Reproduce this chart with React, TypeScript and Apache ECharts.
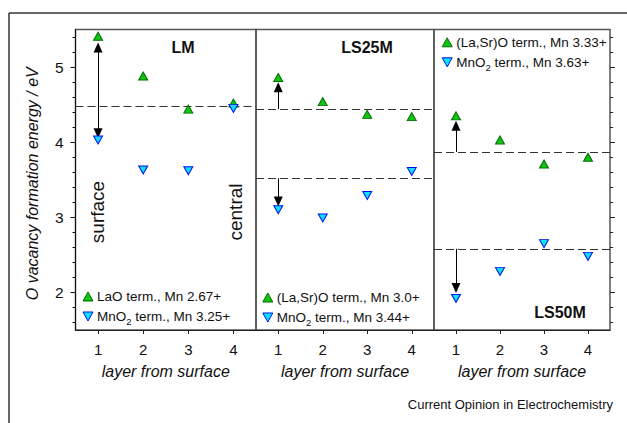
import React, { useEffect, useRef } from 'react';
import * as echarts from 'echarts';

const layers = [1, 2, 3, 4];
const panelNames = ['LM', 'LS25M', 'LS50M'];
const lmLaO = [5.41, 4.88, 4.44, 4.52];
const lmMnO2 = [4.03, 3.63, 3.62, 4.45];
const ls25LaSrO = [4.86, 4.54, 4.37, 4.34];
const ls25MnO2 = [3.1, 2.99, 3.29, 3.61];
const ls50LaSrO = [4.35, 4.03, 3.71, 3.8];
const ls50MnO2 = [1.92, 2.28, 2.65, 2.48];
const aoLabels = ['LaO term., Mn 2.67+', '(La,Sr)O term., Mn 3.0+', '(La,Sr)O term., Mn 3.33+'];
const bLabels = ['MnO2 term., Mn 3.25+', 'MnO2 term., Mn 3.44+', 'MnO2 term., Mn 3.63+'];
const aoAverages = [4.48, 4.44, 3.87];
const bAverages = [4.48, 3.52, 2.58];
const aoArrowEnds = [5.26, 4.73, 4.22];
const bArrowEnds = [4.12, 3.21, 2.06];
const xTicks = [1, 2, 3, 4];
const yMajorTicks = [2, 3, 4, 5];
const yMinorTicks = [1.6, 1.8, 2.2, 2.4, 2.6, 2.8, 3.2, 3.4, 3.6, 3.8, 4.2, 4.4, 4.6, 4.8, 5.2, 5.4];
const yAxisTitle = 'O vacancy formation energy / eV';
const xAxisTitle = 'layer from surface';

const FONT = 'Liberation Sans, Arial, sans-serif';
const upTri = 'path://M5,0L10,9L0,9Z';
const downTri = 'path://M0,0L10,0L5,9Z';

const pts = (vals: number[]) => layers.map((x, i) => [x, vals[i]]);

export default function App() {
  const ref = useRef<HTMLDivElement>(null);
  useEffect(() => {
    if (!ref.current) return;
    const chart = echarts.init(ref.current, undefined, { renderer: 'svg' });
    const grids = [
      { left: 75.5, top: 29.5, width: 180.5, height: 300.5 },
      { left: 256, top: 29.5, width: 178, height: 300.5 },
      { left: 434, top: 29.5, width: 176, height: 300.5 },
    ].map((g) => ({ ...g, show: true, borderColor: '#555', borderWidth: 1.5, containLabel: false }));

    const aoSets = [lmLaO, ls25LaSrO, ls50LaSrO];
    const bSets = [lmMnO2, ls25MnO2, ls50MnO2];
    const yIdx = [0, 2, 3];

    const xAxis = [0, 1, 2].map((i) => ({
      type: 'value',
      gridIndex: i,
      min: 0.5,
      max: 4.5,
      splitLine: { show: false },
      axisLine: { show: true, lineStyle: { color: '#222', width: 1 } },
      axisTick: { show: true, customValues: xTicks, length: 4, lineStyle: { color: '#222' } },
      axisLabel: { customValues: xTicks, fontSize: 15, color: '#111', fontFamily: FONT, margin: 12 },
      name: xAxisTitle,
      nameLocation: 'middle',
      nameGap: 33,
      nameTextStyle: { fontSize: 16, fontStyle: 'italic', color: '#111', fontFamily: FONT },
    }));

    const baseY = { type: 'value', min: 1.5, max: 5.5, splitLine: { show: false } };
    const yAxis = [
      {
        ...baseY,
        gridIndex: 0,
        position: 'left',
        axisLine: { show: true, lineStyle: { color: '#111', width: 1 } },
        axisTick: { show: true, customValues: yMajorTicks, length: 5, lineStyle: { color: '#111' } },
        axisLabel: { customValues: yMajorTicks, fontSize: 15.5, color: '#111', fontFamily: FONT, margin: 12 },
        name: yAxisTitle,
        nameLocation: 'middle',
        nameRotate: 90,
        nameGap: 35,
        nameTextStyle: { fontSize: 16, fontStyle: 'italic', color: '#111', fontFamily: FONT, padding: [0, 8, 0, 0] },
      },
      {
        ...baseY,
        gridIndex: 0,
        position: 'left',
        axisLine: { show: false },
        axisTick: { show: true, customValues: yMinorTicks, length: 3, lineStyle: { color: '#111' } },
        axisLabel: { show: false },
      },
      { ...baseY, gridIndex: 1, show: false },
      {
        ...baseY,
        gridIndex: 2,
        position: 'right',
        axisLine: { show: false },
        axisTick: { show: true, customValues: yMajorTicks, length: 5, lineStyle: { color: '#222' } },
        axisLabel: { show: false },
      },
      {
        ...baseY,
        gridIndex: 2,
        position: 'right',
        axisLine: { show: false },
        axisTick: { show: true, customValues: yMinorTicks, length: 3, lineStyle: { color: '#222' } },
        axisLabel: { show: false },
      },
    ];

    const dashStyle = { type: [8, 4], color: '#333', width: 1 };
    const arrowStyle = { type: 'solid', color: '#000', width: 1 };

    const arrowMarkLine = (base: number, end: number) => ({
      silent: true,
      symbol: ['none', 'triangle'],
      symbolSize: [9, 10],
      label: { show: false },
      lineStyle: arrowStyle,
      itemStyle: { color: '#000' },
      data: [[{ coord: [layers[0], base] }, { coord: [layers[0], end] }]],
    });

    const series: any[] = [];
    [0, 1, 2].forEach((p) => {
      const levels = aoAverages[p] === bAverages[p] ? [aoAverages[p]] : [aoAverages[p], bAverages[p]];
      series.push({
        type: 'scatter',
        xAxisIndex: p,
        yAxisIndex: yIdx[p],
        data: [],
        markLine: {
          silent: true,
          symbol: ['none', 'none'],
          label: { show: false },
          lineStyle: dashStyle,
          data: levels.map((v) => ({ yAxis: v })),
        },
      });
      series.push({
        type: 'scatter',
        name: aoLabels[p],
        xAxisIndex: p,
        yAxisIndex: yIdx[p],
        data: pts(aoSets[p]),
        symbol: upTri,
        symbolSize: [9, 8],
        itemStyle: { color: '#12c412', borderColor: '#006b00', borderWidth: 1, opacity: 1 },
        z: 5,
        markLine: arrowMarkLine(aoAverages[p], aoArrowEnds[p]),
      });
      series.push({
        type: 'scatter',
        name: bLabels[p],
        xAxisIndex: p,
        yAxisIndex: yIdx[p],
        data: pts(bSets[p]),
        symbol: downTri,
        symbolSize: [9, 8],
        itemStyle: { color: '#11ddff', borderColor: '#0010ee', borderWidth: 1, opacity: 1 },
        z: 5,
        markLine: arrowMarkLine(bAverages[p], bArrowEnds[p]),
      });
    });

    const legendPos = [
      { left: 82.5, top: 288.5 },
      { left: 262.3, top: 289.5 },
      { left: 441.7, top: 34.3 },
    ];
    const legend = [0, 1, 2].map((p) => ({
      ...legendPos[p],
      orient: 'vertical',
      padding: 0,
      itemGap: 4,
      itemWidth: 10,
      itemHeight: 9,
      itemStyle: { borderWidth: 1 },
      selectedMode: false,
      data: [aoLabels[p], bLabels[p]],
      formatter: (name: string) => name.replace('MnO2', 'MnO{sub|2}'),
      textStyle: {
        fontSize: 13.5,
        lineHeight: 16,
        color: '#111',
        fontFamily: FONT,
        padding: [0, 0, 0, -1],
        rich: {
          sub: { fontSize: 9.5, lineHeight: 9, padding: [8, 0, 0, 0], verticalAlign: 'top', fontFamily: FONT, color: '#111' },
        },
      },
    }));

    const titlePos = [
      { x: 183, y: 47 },
      { x: 367, y: 47 },
      { x: 560, y: 312 },
    ];
    const graphic: any[] = [
      { type: 'line', shape: { x1: 9, y1: 13, x2: 9, y2: 423 }, style: { stroke: '#333', lineWidth: 1.5 }, silent: true },
      { type: 'line', shape: { x1: 9, y1: 13, x2: 627, y2: 13 }, style: { stroke: '#333', lineWidth: 1.5 }, silent: true },
      ...panelNames.map((t, i) => ({
        type: 'text',
        x: titlePos[i].x,
        y: titlePos[i].y,
        style: { text: t, font: `bold 16px ${FONT}`, fill: '#111', align: 'center', verticalAlign: 'middle' },
        silent: true,
      })),
      {
        type: 'text', x: 97, y: 212, rotation: Math.PI / 2,
        style: { text: 'surface', font: `19px ${FONT}`, fill: '#111', align: 'center', verticalAlign: 'middle' },
        silent: true,
      },
      {
        type: 'text', x: 235, y: 212, rotation: Math.PI / 2,
        style: { text: 'central', font: `19px ${FONT}`, fill: '#111', align: 'center', verticalAlign: 'middle' },
        silent: true,
      },
      {
        type: 'text', x: 613, y: 404,
        style: { text: 'Current Opinion in Electrochemistry', font: `13px ${FONT}`, fill: '#111', align: 'right', verticalAlign: 'middle' },
        silent: true,
      },
    ];

    chart.setOption({
      animation: false,
      backgroundColor: '#fff',
      textStyle: { fontFamily: FONT },
      grid: grids,
      xAxis,
      yAxis,
      legend,
      series,
      graphic,
    });
    return () => chart.dispose();
  }, []);
  return (
    <div
      ref={ref}
      style={{ position: 'fixed', left: 0, top: 0, width: 627, height: 423, background: '#fff' }}
    />
  );
}
